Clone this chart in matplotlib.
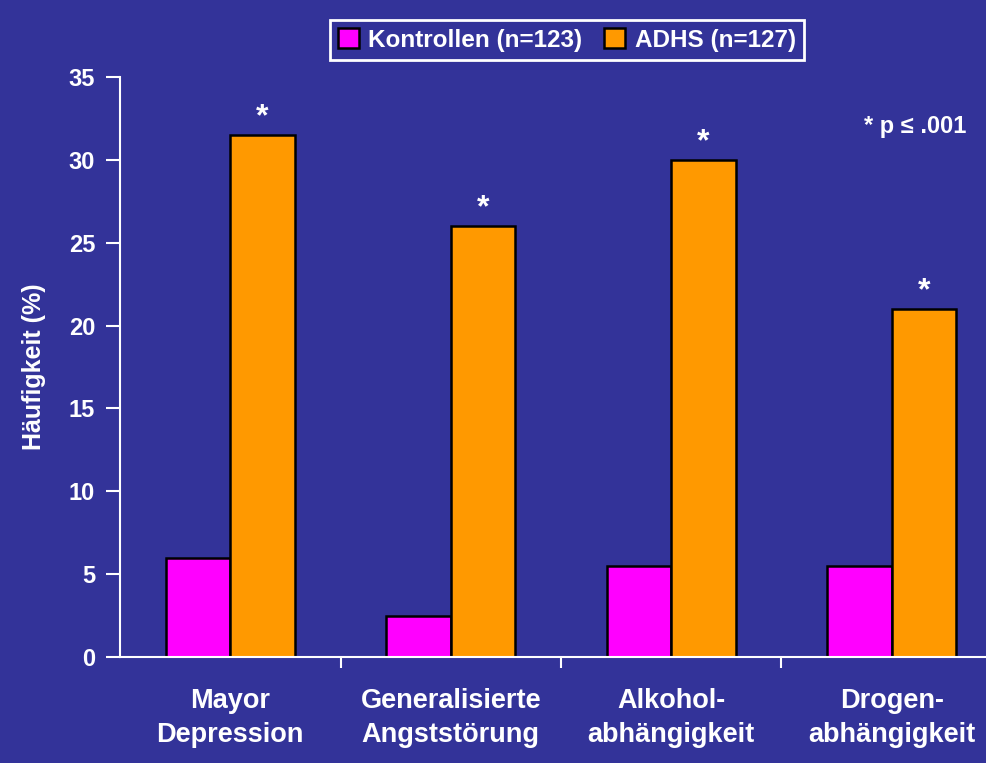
import matplotlib.pyplot as plt
import numpy as np

categories = ["Mayor\nDepression", "Generalisierte\nAngststörung",
              "Alkohol-\nabhängigkeit", "Drogen-\nabhängigkeit"]
kontrollen = [6.0, 2.5, 5.5, 5.5]
adhs = [31.5, 26.0, 30.0, 21.0]
yticks = [0, 5, 10, 15, 20, 25, 30, 35]

bg = "#333399"
plt.rcParams['font.family'] = ['Liberation Sans', 'DejaVu Sans']
plt.rcParams['font.weight'] = 'bold'

fig = plt.figure(figsize=(9.86, 7.63), dpi=100, facecolor=bg)
ax = fig.add_axes([120 / 986, (763 - 657) / 763, 882 / 986, 580 / 763])
ax.set_facecolor(bg)

x = np.arange(len(categories))
w = 0.292
ax.bar(x - w / 2, kontrollen, w, color="#FF00FF", edgecolor="black", linewidth=1.8,
       label="Kontrollen (n=123)")
ax.bar(x + w / 2, adhs, w, color="#FF9900", edgecolor="black", linewidth=1.8,
       label="ADHS (n=127)")

# significance stars above the ADHS bars
for xi, v in zip(x, adhs):
    ax.text(xi + w / 2, v + 1.05, "*", ha="center", va="center", color="white",
            fontsize=23, fontweight="bold")

ax.set_xlim(-0.5, 3.5)
ax.set_ylim(0, 35)
ax.set_yticks(yticks)
ax.set_yticklabels([str(t) for t in yticks], fontsize=17, color="white")
ax.set_xticks([0.5, 1.5, 2.5])
ax.set_xticklabels([])
ax.tick_params(axis="y", direction="out", length=10, width=1.5, color="white", pad=8)
ax.tick_params(axis="x", direction="out", length=8, width=1.5, color="white")
for xi, lab in zip(x, categories):
    ax.text(xi, -1.9, lab, ha="center", va="top", color="white", fontsize=19.5,
            fontweight="bold", linespacing=1.4)

for s in ["top", "right"]:
    ax.spines[s].set_visible(False)
for s in ["left", "bottom"]:
    ax.spines[s].set_color("white")
    ax.spines[s].set_linewidth(1.5)

ax.set_ylabel("Häufigkeit (%)", color="white", fontsize=18, fontweight="bold", labelpad=16)

fig.text(915 / 986, 1 - 127 / 763, "* p ≤ .001", color="white",
         fontsize=17, fontweight="bold", ha="center", va="center")

leg = fig.legend(loc="center", bbox_to_anchor=(567 / 986, 1 - 40 / 763), ncol=2,
                 fontsize=17.5, frameon=True, fancybox=False, facecolor=bg,
                 edgecolor="white", framealpha=1, labelcolor="white",
                 handlelength=0.85, handleheight=0.85, handletextpad=0.4,
                 columnspacing=0.9, borderpad=0.35, borderaxespad=0)
leg.get_frame().set_linewidth(2)

fig.savefig("out.png", dpi=100, facecolor=bg)
